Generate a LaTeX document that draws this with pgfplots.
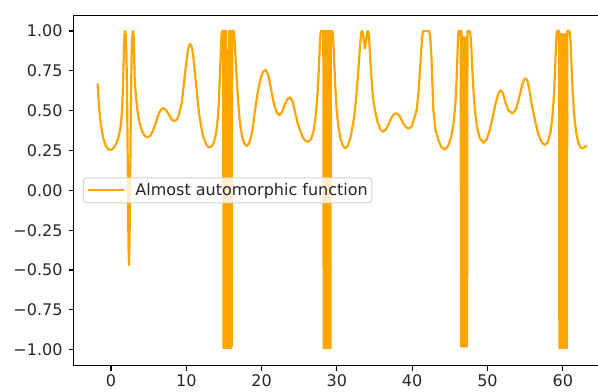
\documentclass[border=0pt]{standalone}
\usepackage{fontspec}
\setmainfont{DejaVu Sans}
\usepackage{pgfplots}
\pgfplotsset{compat=1.18}
\definecolor{mplorange}{HTML}{FFA500}
\begin{document}
\begin{tikzpicture}[trim left=-73.7bp, trim right=524.3bp]
\path (0bp,-25.5bp) -- (0bp,365.6bp);
\begin{axis}[
  scale only axis,
  width=536.5bp, height=350.5bp,
  xmin=-4.95, xmax=66.3, ymin=-1.1, ymax=1.1,
  axis line style={line width=1.1bp, black},
  xtick={0,10,20,30,40,50,60},
  xticklabels={0,10,20,30,40,50,60},
  ytick={-1,-0.75,-0.5,-0.25,0,0.25,0.5,0.75,1},
  yticklabels={−1.00,−0.75,−0.50,−0.25,0.00,0.25,0.50,0.75,1.00},
  xtick pos=left, ytick pos=left,
  tick align=outside,
  major tick length=5bp,
  major tick style={line width=1.1bp, black},
  tick label style={font=\fontsize{16bp}{19bp}\selectfont, text=black!85},
  yticklabel style={anchor=east, inner sep=0pt, xshift=-6bp},
  xticklabel style={anchor=north, inner sep=0pt, yshift=-4.3bp},
  legend style={at={(axis description cs:0.01734,0.5)}, anchor=west,
    draw=black!18, line width=1bp, rounded corners=3bp, fill=white, fill opacity=0.8, text opacity=1,
    inner xsep=4bp, inner ysep=5.6bp, nodes={inner sep=0pt},
    font=\fontsize{16bp}{19bp}\selectfont, text=black!85},
  legend cell align=left,
  legend image code/.code={\draw[#1] (0bp,0bp) -- (35bp,0bp); \path (45.7bp,0bp);},
]
\addplot[color=mplorange, line width=2.2bp, line join=round, line cap=round] coordinates {
(-1.77,0.667) (-1.68,0.59) (-1.59,0.525) (-1.48,0.47) (-1.37,0.42) (-1.2,0.37) (-1.02,0.326) (-0.8,0.293) (-0.58,0.27) (-0.35,0.257) (-0.13,0.253) (0.1,0.256) (0.31,0.264) (0.55,0.28) (0.75,0.299) (0.95,0.325) (1.11,0.358) (1.25,0.39) (1.37,0.441) (1.47,0.51) (1.55,0.588) (1.64,0.734) (1.73,0.90) (1.80,0.98)
(1.87,1.0) (1.95,0.98) (2.05,0.87) (2.15,0.55) (2.25,0.05) (2.32,-0.33) (2.39,-0.469) (2.46,-0.33) (2.55,0.05) (2.65,0.55) (2.75,0.87) (2.85,0.98) (2.93,1.0) (3.0,0.98) (3.05,0.92)
(3.14,0.713) (3.22,0.65) (3.32,0.588) (3.45,0.53) (3.63,0.462) (3.85,0.415) (4.07,0.379) (4.3,0.356) (4.52,0.341) (4.83,0.333) (5.18,0.341) (5.4,0.357) (5.62,0.379) (5.85,0.41) (6.06,0.441) (6.3,0.475) (6.51,0.498) (6.75,0.512) (6.95,0.515) (7.17,0.51) (7.39,0.498) (7.6,0.482) (7.84,0.462) (8.1,0.443) (8.41,0.435) (8.7,0.443) (8.94,0.462) (9.15,0.5) (9.38,0.546) (9.55,0.61) (9.69,0.672) (9.87,0.75) (10.05,0.818) (10.16,0.86) (10.27,0.891) (10.38,0.91) (10.49,0.918) (10.6,0.913) (10.71,0.901) (10.82,0.875) (10.93,0.839) (11.1,0.76) (11.29,0.672) (11.45,0.59) (11.6,0.525) (11.75,0.465) (11.91,0.42) (12.08,0.375) (12.26,0.336) (12.5,0.305) (12.71,0.284) (12.9,0.274) (13.06,0.27) (13.28,0.274) (13.5,0.284) (13.65,0.3) (13.81,0.326) (13.97,0.365) (14.12,0.42) (14.24,0.48) (14.34,0.567) (14.43,0.67) (14.52,0.776) (14.6,0.87) (14.65,0.943) (14.7,0.985) (14.75,1.0)
(14.8,1.0) (14.85,1.0) (14.9,1.0) (14.95,-0.99) (15.0,1.0) (15.05,-0.99) (15.1,1.0) (15.15,-0.99) (15.2,1.0) (15.25,-0.99) (15.3,1.0) (15.35,-0.99) (15.4,0.88) (15.45,-0.99) (15.5,0.88) (15.55,-0.99) (15.6,0.88) (15.65,-0.99) (15.7,1.0) (15.75,-0.99) (15.8,1.0) (15.85,-0.99) (15.9,1.0) (15.95,-0.99) (16.0,1.0) (16.05,-0.98) (16.1,1.0) (16.2,1.0) (16.3,1.0) (16.38,0.97)
(16.45,0.92) (16.55,0.83) (16.69,0.713) (16.9,0.55) (17.13,0.42) (17.4,0.34) (17.7,0.295) (18.02,0.278) (18.4,0.30) (18.8,0.38) (19.12,0.50) (19.5,0.62) (19.9,0.71) (20.2,0.745) (20.54,0.755) (20.85,0.73) (21.2,0.65) (21.6,0.55) (22.0,0.49) (22.35,0.473) (22.7,0.49) (23.1,0.54) (23.45,0.575) (23.77,0.584) (24.1,0.56) (24.5,0.48) (24.8,0.42) (25.1,0.379) (25.5,0.33) (25.85,0.31) (26.2,0.305) (26.55,0.32) (26.9,0.37) (27.2,0.47) (27.45,0.62) (27.62,0.78) (27.75,0.92) (27.84,0.99) (27.92,1.0)
(28.0,1.0) (28.1,1.0) (28.2,1.0) (28.25,-0.99) (28.3,1.0) (28.35,-0.99) (28.4,1.0) (28.45,-0.99) (28.5,1.0) (28.55,-0.99) (28.6,1.0) (28.65,-0.99) (28.7,1.0) (28.75,-0.99) (28.8,1.0) (28.85,-0.99) (28.9,1.0) (28.95,-0.99) (29.0,1.0) (29.05,-0.99) (29.1,1.0) (29.15,-0.99) (29.2,1.0) (29.3,1.0) (29.4,1.0) (29.47,0.97)
(29.55,0.91) (29.65,0.8) (29.8,0.64) (29.97,0.503) (30.2,0.4) (30.5,0.32) (30.8,0.28) (31.08,0.264) (31.4,0.275) (31.8,0.33) (32.2,0.43) (32.5,0.55) (32.75,0.69) (32.95,0.82) (33.1,0.92) (33.2,0.98) (33.3,1.0) (33.45,0.99) (33.6,0.93) (33.73,0.89) (33.86,0.93) (34.0,0.99) (34.15,1.0) (34.25,0.97) (34.35,0.9) (34.5,0.77) (34.7,0.63) (34.88,0.55) (35.06,0.503) (35.4,0.43) (35.75,0.385) (36.1,0.368) (36.5,0.38) (36.9,0.42) (37.3,0.46) (37.6,0.478) (37.93,0.483) (38.3,0.47) (38.7,0.43) (39.1,0.40) (39.4,0.39) (39.62,0.389) (39.9,0.40) (40.2,0.44) (40.59,0.504) (40.85,0.62) (41.05,0.76) (41.2,0.88) (41.32,0.96) (41.45,1.0) (41.7,1.0) (42.0,1.0) (42.25,1.0) (42.4,0.96) (42.55,0.85) (42.68,0.68) (42.81,0.504) (43.1,0.38) (43.47,0.316) (43.9,0.27) (44.36,0.257) (44.8,0.28) (45.2,0.34) (45.5,0.42) (45.75,0.55) (45.9,0.70) (46.0,0.83) (46.08,0.95) (46.15,1.0)
(46.25,1.0) (46.35,1.0) (46.44,1.0) (46.49,-0.98) (46.54,1.0) (46.59,-0.98) (46.64,0.96) (46.69,-0.98) (46.74,0.96) (46.79,-0.98) (46.84,0.96) (46.89,-0.98) (46.94,0.96) (46.99,-0.98) (47.04,0.96) (47.09,-0.98) (47.14,0.96) (47.19,-0.98) (47.24,0.96) (47.29,-0.98) (47.34,1.0) (47.45,1.0) (47.55,1.0) (47.65,1.0) (47.72,0.98)
(47.8,0.95) (47.9,0.85) (48.05,0.7) (48.15,0.62) (48.33,0.504) (48.6,0.4) (48.95,0.33) (49.45,0.299) (49.9,0.32) (50.3,0.38) (50.7,0.46) (51.1,0.55) (51.45,0.61) (51.75,0.629) (52.05,0.61) (52.4,0.55) (52.8,0.5) (53.34,0.483) (53.8,0.51) (54.2,0.58) (54.6,0.66) (54.85,0.695) (55.07,0.703) (55.3,0.69) (55.6,0.62) (55.95,0.52) (56.31,0.441) (56.7,0.36) (57.15,0.305) (57.64,0.284) (58.0,0.3) (58.35,0.36) (58.6,0.45) (58.8,0.57) (58.95,0.72) (59.07,0.87) (59.15,0.96) (59.22,1.0)
(59.3,1.0) (59.4,1.0) (59.5,1.0) (59.55,-0.99) (59.6,0.98) (59.65,-0.99) (59.7,0.98) (59.75,-0.99) (59.8,0.98) (59.85,-0.99) (59.9,0.98) (59.95,-0.99) (60.0,0.98) (60.05,-0.99) (60.1,0.98) (60.15,-0.99) (60.2,0.98) (60.25,-0.99) (60.3,0.98) (60.35,-0.99) (60.4,0.98) (60.45,-0.99) (60.5,0.98) (60.55,-0.99) (60.6,1.0) (60.7,1.0) (60.8,1.0) (60.9,1.0) (60.97,0.97)
(61.05,0.92) (61.15,0.8) (61.3,0.63) (61.5,0.48) (61.75,0.37) (62.05,0.3) (62.35,0.27) (62.64,0.264) (62.9,0.27) (63.08,0.28)
};
\addlegendentry{Almost automorphic function\hspace{4.7bp}}
\end{axis}
\end{tikzpicture}
\end{document}
